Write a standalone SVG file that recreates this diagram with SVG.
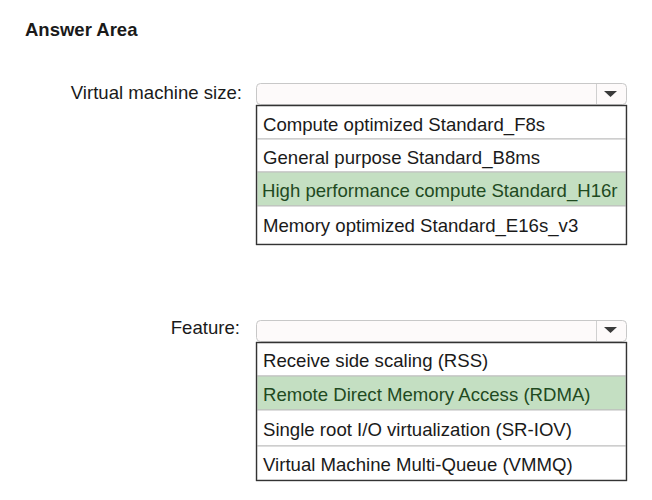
<svg xmlns="http://www.w3.org/2000/svg" width="652" height="500" viewBox="0 0 652 500">
<style>
text{font-family:"Liberation Sans",Arial,sans-serif;font-size:18.6px;fill:#1a1a1a}
.title{font-weight:bold;font-size:18.5px}
.lbl{text-anchor:end}
.dd{fill:#fdfafa;stroke:#c8c8c8;stroke-width:1}
.sep{stroke:#d0d0d0;stroke-width:1}
.arrow{fill:#3a3a3a}
.box{fill:#fff;stroke:#333;stroke-width:1.2}
.row{fill:#fff;stroke:#bdbdbd;stroke-width:1}
.sel{fill:#c4dfc2;stroke:#bdbdbd;stroke-width:1}
.seltxt{fill:#1f4a1f}
</style>
<rect width="652" height="500" fill="#fff"/>
<text class="title" x="25" y="36">Answer Area</text>

<g id="vm-size">
<text class="lbl" x="242" y="99">Virtual machine size:</text>
<rect class="dd" x="256.5" y="83.5" width="370" height="21" rx="4"/>
<line class="sep" x1="596.5" y1="84" x2="596.5" y2="104"/>
<polygon class="arrow" points="604,91 617,91 610.5,97"/>
<rect class="box" x="256.5" y="105.5" width="370" height="139"/>
<rect class="row" x="257" y="106" width="369" height="33"/>
<rect class="row" x="257" y="139" width="369" height="33"/>
<rect class="sel" x="257" y="172" width="369" height="34"/>
<rect class="row" x="257" y="206" width="369" height="38"/>
<rect x="256.5" y="105.5" width="370" height="139" fill="none" stroke="#333" stroke-width="1.2"/>
<text x="263" y="131">Compute optimized Standard_F8s</text>
<text x="263" y="164">General purpose Standard_B8ms</text>
<text class="seltxt" x="262" y="197">High performance compute Standard_H16r</text>
<text x="263" y="232">Memory optimized Standard_E16s_v3</text>
</g>

<g id="feature">
<text class="lbl" x="240" y="334">Feature:</text>
<rect class="dd" x="256.5" y="320.5" width="370" height="21" rx="4"/>
<line class="sep" x1="596.5" y1="321" x2="596.5" y2="341"/>
<polygon class="arrow" points="604,327 617,327 610.5,333"/>
<rect class="box" x="256.5" y="342.5" width="370" height="138"/>
<rect class="row" x="257" y="343" width="369" height="33"/>
<rect class="sel" x="257" y="376" width="369" height="34"/>
<rect class="row" x="257" y="410" width="369" height="36"/>
<rect class="row" x="257" y="446" width="369" height="34"/>
<rect x="256.5" y="342.5" width="370" height="138" fill="none" stroke="#333" stroke-width="1.2"/>
<text x="263" y="367">Receive side scaling (RSS)</text>
<text class="seltxt" x="263" y="401">Remote Direct Memory Access (RDMA)</text>
<text x="263" y="436">Single root I/O virtualization (SR-IOV)</text>
<text x="263" y="471">Virtual Machine Multi-Queue (VMMQ)</text>
</g>
</svg>
